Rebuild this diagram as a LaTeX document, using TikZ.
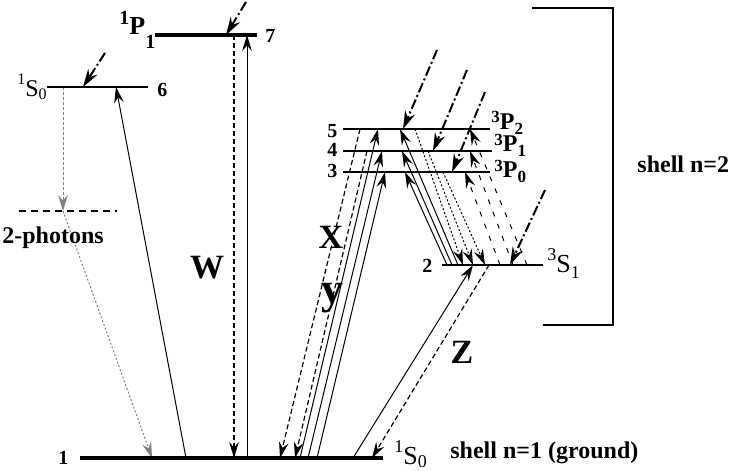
\documentclass[tikz,border=0pt]{standalone}
\usepackage{fontspec}
\setmainfont{Liberation Serif}
\usetikzlibrary{arrows.meta}
\tikzset{>={Stealth[length=8pt,width=4.8pt,inset=2.8pt]}}
\tikzstyle{level} = [line width=1.3pt]
\tikzstyle{up} = [line width=0.5pt,->]
\tikzstyle{down} = [line width=0.6pt,dash pattern=on 2.5pt off 1.5pt,->]
\tikzstyle{fine} = [line width=0.5pt,dash pattern=on 1pt off 1pt,->]
\tikzstyle{sparse} = [line width=0.5pt,dash pattern=on 2.5pt off 4pt,->]
\tikzstyle{pump} = [line width=1pt,dash pattern=on 5pt off 1.5pt on 1pt off 1.5pt,-{Stealth[length=9pt,width=5.4pt,inset=3pt]}]
\tikzstyle{twoph} = [line width=0.5pt,gray,dash pattern=on 1.5pt off 1pt,->]
\tikzstyle{num} = [font=\bfseries\fontsize{10}{10}\selectfont,anchor=base west,inner sep=0pt]
\tikzstyle{big} = [font=\bfseries\fontsize{17}{17}\selectfont,anchor=base,inner sep=0pt]
\tikzstyle{txt} = [font=\bfseries\fontsize{12}{12}\selectfont,anchor=base west,inner sep=0pt]
\tikzstyle{term} = [anchor=base west,inner sep=0pt]
\newcommand{\term}[6][9]{\raisebox{#2}{\fontsize{#1}{#1}\selectfont #4}#5\raisebox{-#3}{\fontsize{#1}{#1}\selectfont #6}}

\begin{document}
\begin{tikzpicture}[x=0.5pt,y=-0.5pt]
        \useasboundingbox (0,0) rectangle (731,470);
        %poziomy
        \coordinate (lv1) at (0,458);
        \coordinate (lv2) at (0,265);
        \coordinate (lv3) at (0,172);
        \coordinate (lv4) at (0,151);
        \coordinate (lv5) at (0,129);
        \coordinate (lv6) at (0,87);
        \coordinate (lv7) at (0,35);
        \coordinate (virt) at (0,211);
        %wzbudzenie z zewnatrz
        \coordinate (p7) at (246,2);
        \coordinate (p6) at (105,53);
        \coordinate (p5) at (437,50);
        \coordinate (p4) at (467,70);
        \coordinate (p3) at (485,92);
        \coordinate (p2) at (545,190);
        %przejscia 7
        \draw[pump] (p7) -- (226,0 |- lv7);
        \draw[down] (234,0 |- lv7) -- (234,0 |- lv1);
        \draw[up] (247,0 |- lv1) -- (247,0 |- lv7);
        %przejscia 6
        \draw[pump] (p6) -- (83,0 |- lv6);
        \draw[twoph] (63,0 |- lv6) -- (63,0 |- virt);
        \draw[twoph,dash pattern=on 1pt off 1pt] (63,0 |- virt) -- (152,0 |- lv1);
        \draw[up] (186,0 |- lv1) -- (116,0 |- lv6);
        %przejscia 3,4,5
        \draw[pump] (p5) -- (403,0 |- lv5);
        \draw[pump] (p4) -- (433,0 |- lv4);
        \draw[pump] (p3) -- (452,0 |- lv3);
        \draw[down] (360,0 |- lv5) -- (280,0 |- lv1);
        \draw[down] (367,0 |- lv4) -- (295,0 |- lv1);
        \draw[up] (300,0 |- lv1) -- (378,0 |- lv5);
        \draw[up] (308,0 |- lv1) -- (382,0 |- lv4);
        \draw[up] (317,0 |- lv1) -- (385,0 |- lv3);
        \draw[up] (458,0 |- lv2) -- (400,0 |- lv5);
        \draw[up] (452,0 |- lv2) -- (402,0 |- lv4);
        \draw[up] (447,0 |- lv2) -- (405,0 |- lv3);
        \draw[fine] (415,0 |- lv5) -- (463,0 |- lv2);
        \draw[fine] (428,0 |- lv4) -- (473,0 |- lv2);
        \draw[fine] (443,0 |- lv3) -- (485,0 |- lv2);
        \draw[sparse] (527,0 |- lv2) -- (470,0 |- lv5);
        \draw[sparse] (513,0 |- lv2) -- (470,0 |- lv4);
        \draw[sparse] (500,0 |- lv2) -- (465,0 |- lv3);
        %przejscia 2
        \draw[pump] (p2) -- (510,0 |- lv2);
        \draw[up] (353,0 |- lv1) -- (473,0 |- lv2);
        \draw[down] (489,0 |- lv2) -- (372,0 |- lv1);
        %linie poziomow
        \draw[level,line width=1.6pt] (155,0 |- lv7) -- (257,0 |- lv7);
        \draw[level,line width=1.2pt] (47,0 |- lv6) -- (148,0 |- lv6);
        \draw[level] (343,0 |- lv5) -- (490,0 |- lv5);
        \draw[level] (343,0 |- lv4) -- (492,0 |- lv4);
        \draw[level] (343,0 |- lv3) -- (490,0 |- lv3);
        \draw[level] (442,0 |- lv2) -- (543,0 |- lv2);
        \draw[level,line width=2pt] (80,0 |- lv1) -- (383,0 |- lv1);
        \draw[line width=0.7pt,dash pattern=on 3.5pt off 2.5pt] (19,0 |- virt) -- (117,0 |- virt);
        %nawias
        \draw[line width=1pt] (532,8) -- (613,8) -- (613,325) -- (543,325);
        %opisy
        \node[num] (n7) at (265,43) {7};
        \node[num] (n6) at (157,97) {6};
        \node[num] (n5) at (327,138) {5};
        \node[num] (n4) at (327,156) {4};
        \node[num] (n3) at (327,177) {3};
        \node[num] (n2) at (422,272) {2};
        \node[num] (n1) at (58,464) {1};
        \node[term,font=\bfseries\fontsize{13}{13}\selectfont] (t7) at (119,35) {\term[10]{5pt}{7pt}{1}{P}{1}};
        \node[term,font=\fontsize{12}{12}\selectfont] (t6) at (17,97) {\term[8]{6pt}{1.5pt}{1}{S}{0}};
        \node[term,font=\bfseries\fontsize{12}{12}\selectfont] (t5) at (491,130) {\term[8.5]{3.5pt}{2pt}{3}{P}{2}};
        \node[term,font=\bfseries\fontsize{12}{12}\selectfont] (t4) at (494,152) {\term[8.5]{3pt}{2pt}{3}{P}{1}};
        \node[term,font=\bfseries\fontsize{12}{12}\selectfont] (t3) at (494,177) {\term[8.5]{3pt}{2.5pt}{3}{P}{0}};
        \node[term,font=\fontsize{13}{13}\selectfont] (t2) at (547,272) {\term{6pt}{3pt}{3}{S}{1}};
        \node[term,font=\fontsize{13}{13}\selectfont] (t1) at (394,464) {\term{6pt}{1.5pt}{1}{S}{0}};
        \node[txt] (photons) at (2,243) {2-photons};
        \node[txt] (shell2) at (637,172) {shell n=2};
        \node[txt] (shell1) at (450,458) {shell n=1 (ground)};
        \node[big] (w) at (207,278) {W};
        \node[big] (x) at (331,248) {X};
        \node[big,font=\bfseries\fontsize{22}{22}\selectfont] (y) at (332,303) {y};
        \node[big] (z) at (462,363) {Z};
\end{tikzpicture}
\end{document}
